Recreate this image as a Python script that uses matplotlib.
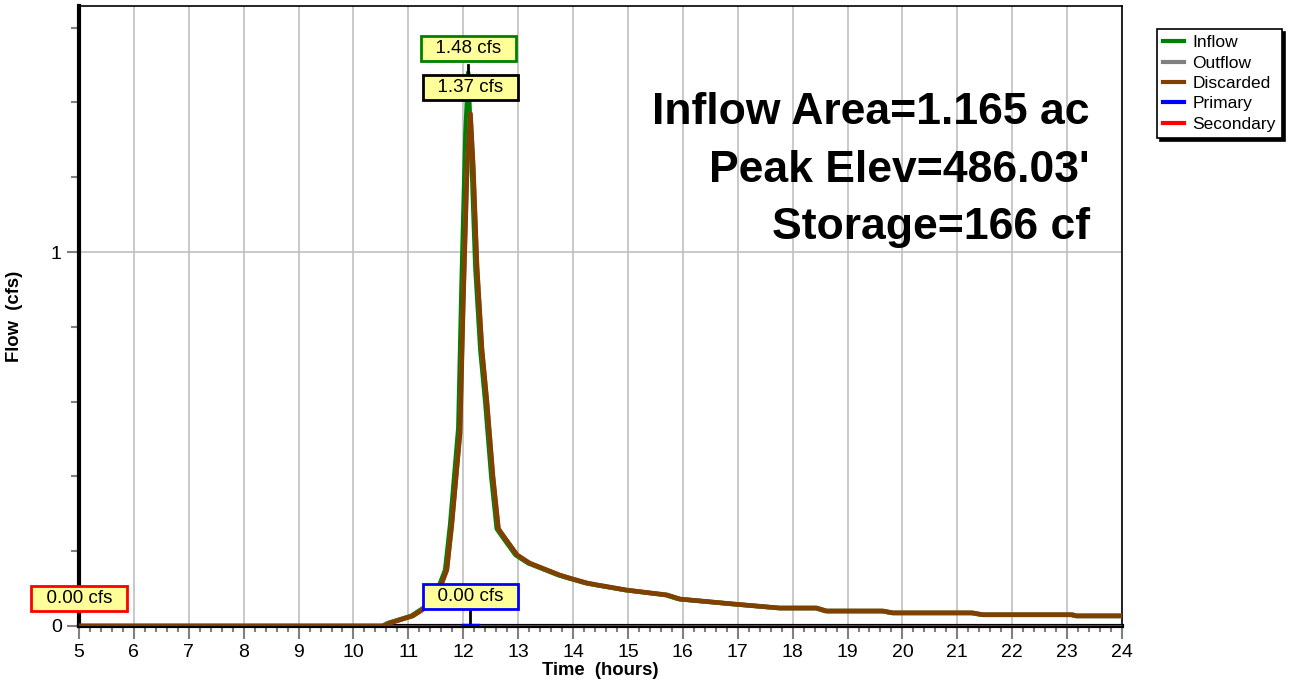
import numpy as np
import matplotlib
matplotlib.use('Agg')
import matplotlib.pyplot as plt
from matplotlib.ticker import MultipleLocator

plt.rcParams['font.family'] = ['Liberation Sans', 'DejaVu Sans']

# hydrograph values (hours, cfs)
t_disc = [5, 10.55, 10.66, 11.08, 11.30, 11.58, 11.70, 11.79, 11.94, 12.0, 12.07, 12.13,
          12.18, 12.25, 12.34, 12.43, 12.54, 12.64, 12.72, 12.98, 13.21, 13.76, 13.94,
          14.25, 14.43, 14.98, 15.71, 15.95, 16.91, 17.77, 18.44, 18.62, 19.65, 19.83,
          21.28, 21.47, 22.87, 23.10, 23.17, 24]
q_disc = [0, 0, 0.008, 0.027, 0.048, 0.104, 0.150, 0.27, 0.516, 0.87, 1.23, 1.37,
          1.23, 0.96, 0.74, 0.60, 0.40, 0.26, 0.243, 0.19, 0.168, 0.136, 0.128,
          0.115, 0.11, 0.096, 0.083, 0.072, 0.059, 0.048, 0.048, 0.040, 0.040, 0.035,
          0.035, 0.030, 0.030, 0.030, 0.027, 0.027]

t_in = [5, 10.52, 10.63, 11.05, 11.27, 11.55, 11.67, 11.76, 11.91, 11.97, 12.04, 12.09,
        12.15, 12.22, 12.31, 12.40, 12.51, 12.61, 12.69, 12.95, 13.18, 13.73, 13.91,
        14.22, 14.40, 14.95, 15.68, 15.92, 16.88, 17.74, 18.41, 18.59, 19.62, 19.80,
        21.25, 21.44, 22.84, 23.07, 23.14, 24]
q_in = [0, 0, 0.008, 0.027, 0.048, 0.104, 0.150, 0.27, 0.53, 0.92, 1.32, 1.48,
        1.25, 0.96, 0.74, 0.60, 0.40, 0.26, 0.243, 0.19, 0.168, 0.136, 0.128,
        0.115, 0.11, 0.096, 0.083, 0.072, 0.059, 0.048, 0.048, 0.040, 0.040, 0.035,
        0.035, 0.030, 0.030, 0.030, 0.027, 0.027]

t_zero = [5, 24]
q_primary = [0, 0]
q_secondary = [0, 0]
q_out = q_disc  # outflow = discarded + primary + secondary (both zero)

fig = plt.figure(figsize=(12.94, 6.86), dpi=100)
ax = fig.add_axes([79 / 1294, 60 / 686, (1122 - 79) / 1294, (626 - 6) / 686])

ax.plot(t_in, q_in, color='#008000', lw=3.2, label='Inflow', zorder=3)
ax.plot(t_disc, q_out, color='#808080', lw=3.2, label='Outflow', zorder=3)
ax.plot(t_disc, q_disc, color='#804000', lw=3.4, label='Discarded', zorder=4)
ax.plot(t_zero, q_primary, color='#0000ff', lw=1.5, label='Primary', zorder=5)
ax.plot(t_zero, q_secondary, color='#ff0000', lw=1.5, label='Secondary', zorder=6)

ax.set_xlim(5, 24)
ax.set_ylim(0, 1.658)
ax.xaxis.set_major_locator(MultipleLocator(1))
ax.xaxis.set_minor_locator(MultipleLocator(0.2))
ax.yaxis.set_major_locator(MultipleLocator(1))
ax.yaxis.set_minor_locator(MultipleLocator(0.2))
ax.grid(True, which='major', color='#c0c0c0', lw=1.2)
ax.tick_params(which='both', direction='out', color='#808080', labelsize=14, width=1.5)
ax.tick_params(axis='x', which='major', length=9, pad=4)
ax.tick_params(axis='x', which='minor', length=4)
ax.tick_params(axis='y', which='major', length=9)
ax.tick_params(axis='y', which='minor', length=6)

ax.spines['left'].set_linewidth(3)
ax.spines['bottom'].set_linewidth(3)
ax.spines['top'].set_linewidth(1.2)
ax.spines['right'].set_linewidth(1.2)

ax.set_xlabel('Time  (hours)', fontsize=13.3, fontweight='bold', labelpad=1)
ax.set_ylabel('Flow  (cfs)', fontsize=13.3, fontweight='bold', labelpad=20)

# peak annotation boxes
def label_box(x, y, txt, edge):
    ax.text(x, y, '  ' + txt + '  ', ha='center', va='center', fontsize=13.5, zorder=10,
            clip_on=False,
            bbox=dict(boxstyle='square,pad=0.22', fc='#ffff99', ec=edge, lw=2))

pk_in = max(q_in)
pk_disc = max(q_disc)
t_pk_in = t_in[q_in.index(pk_in)]
t_pk_disc = t_disc[q_disc.index(pk_disc)]

ax.plot([t_pk_in, t_pk_in], [1.50, 1.48], color='black', lw=2, zorder=9)
label_box(t_pk_in, 1.545, f'{pk_in:.2f} cfs', '#008000')
label_box(t_pk_disc, 1.44, f'{pk_disc:.2f} cfs', 'black')

ax.plot([t_pk_disc, t_pk_disc], [0.045, 0.004], color='black', lw=2, zorder=9)
ax.plot([t_pk_disc - 0.14, t_pk_disc + 0.14], [0.003, 0.003], color='#0000ff', lw=2.5, zorder=9)
label_box(t_pk_disc, 0.078, f'{max(q_primary):.2f} cfs', '#0000ff')
label_box(5.0, 0.073, f'{max(q_secondary):.2f} cfs', '#ff0000')

# summary text
summary = ['Inflow Area=1.165 ac', "Peak Elev=486.03'", 'Storage=166 cf']
for i, s in enumerate(summary):
    fig.text(1090 / 1294, 1 - (112 + 58 * i) / 686, s, ha='right', va='center',
             fontsize=32, fontweight='bold')

leg = ax.legend(loc='upper left', bbox_to_anchor=(1157 / 1294, 1 - 29 / 686),
                bbox_transform=fig.transFigure, fontsize=12.5, frameon=True,
                fancybox=False, shadow={'color': 'black', 'alpha': 1},
                handlelength=1.2, handletextpad=0.5, labelspacing=0.3,
                borderpad=0.35, borderaxespad=0)
leg.get_frame().set_edgecolor('black')
leg.get_frame().set_linewidth(1.2)
for h in leg.get_lines():
    h.set_linewidth(3)

fig.savefig('out.png', dpi=100)
